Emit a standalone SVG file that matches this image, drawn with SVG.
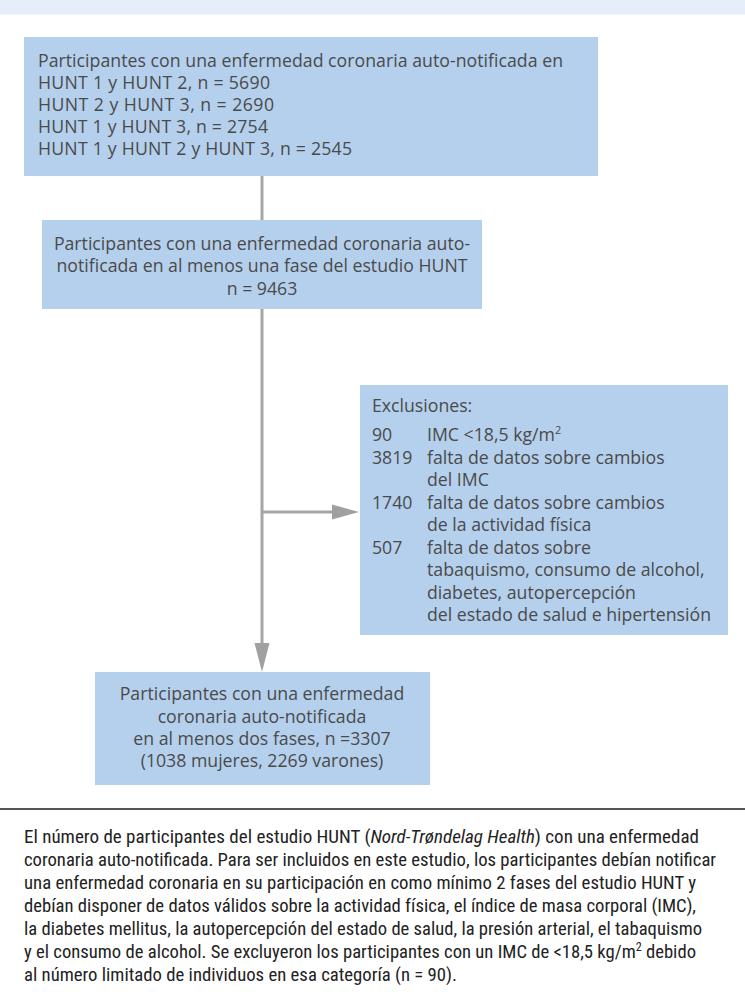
<svg xmlns="http://www.w3.org/2000/svg" width="745" height="1005" viewBox="0 0 745 1005">
<style>
.box{fill:#b5d0ed}
.bt{font-family:"Open Sans","Noto Sans",sans-serif;font-size:17.7px;fill:#4a4a4a}
.c{text-anchor:middle}
.cap{font-family:"Liberation Sans Narrow","Roboto Condensed","DejaVu Sans Condensed",sans-serif;font-size:18.5px;fill:#222}
.con{stroke:#a6a6a6;stroke-width:3;fill:none}
.ah{fill:#a0a0a0}
</style>
<rect x="0" y="0" width="745" height="14.5" fill="#e6eef9"/>
<g id="n1">
<rect class="box" x="24" y="37" width="574" height="139"/>
<text class="bt" x="38" y="67" textLength="525">Participantes con una enfermedad coronaria auto-notificada en</text>
<text class="bt" x="38" y="89" textLength="232">HUNT 1 y HUNT 2, n = 5690</text>
<text class="bt" x="38" y="111" textLength="236">HUNT 2 y HUNT 3, n = 2690</text>
<text class="bt" x="38" y="133" textLength="230">HUNT 1 y HUNT 3, n = 2754</text>
<text class="bt" x="38" y="155" textLength="314">HUNT 1 y HUNT 2 y HUNT 3, n = 2545</text>
</g>
<g id="n2">
<rect class="box" x="42" y="220" width="440" height="89"/>
<text class="bt c" x="262" y="250">Participantes con una enfermedad coronaria auto-</text>
<text class="bt c" x="262" y="272">notificada en al menos una fase del estudio HUNT</text>
<text class="bt c" x="262" y="295">n = 9463</text>
</g>
<g id="n3">
<rect class="box" x="360" y="385" width="368" height="250"/>
<text class="bt" x="372" y="412">Exclusiones:</text>
<text class="bt" x="372" y="441">90</text>
<text class="bt" x="427" y="441">IMC &lt;18,5 kg/m<tspan font-size="11" dy="-7">2</tspan></text>
<text class="bt" x="372" y="463.5">3819</text>
<text class="bt" x="427" y="463.5">falta de datos sobre cambios</text>
<text class="bt" x="427" y="486">del IMC</text>
<text class="bt" x="372" y="508.5">1740</text>
<text class="bt" x="427" y="508.5">falta de datos sobre cambios</text>
<text class="bt" x="427" y="531">de la actividad física</text>
<text class="bt" x="372" y="553.5">507</text>
<text class="bt" x="427" y="553.5">falta de datos sobre</text>
<text class="bt" x="427" y="576">tabaquismo, consumo de alcohol,</text>
<text class="bt" x="427" y="598.5">diabetes, autopercepción</text>
<text class="bt" x="427" y="621">del estado de salud e hipertensión</text>
</g>
<g id="n4">
<rect class="box" x="95" y="672" width="335" height="113"/>
<text class="bt c" x="262" y="700">Participantes con una enfermedad</text>
<text class="bt c" x="262" y="723">coronaria auto-notificada</text>
<text class="bt c" x="262" y="745">en al menos dos fases, n =3307</text>
<text class="bt c" x="262" y="767">(1038 mujeres, 2269 varones)</text>
</g>
<g id="connectors">
<line class="con" x1="262" y1="176" x2="262" y2="220"/>
<line class="con" x1="262" y1="309" x2="262" y2="645"/>
<line class="con" x1="262" y1="512" x2="334" y2="512"/>
<polygon class="ah" points="332,504.5 359,512 332,519.5"/>
<polygon class="ah" points="254.5,643 269.5,643 262,672"/>
</g>
<line x1="0" y1="809" x2="745" y2="809" stroke="#555" stroke-width="2"/>
<g id="caption">
<text class="cap" x="24" y="843" textLength="675" lengthAdjust="spacingAndGlyphs">El número de participantes del estudio HUNT (<tspan font-style="italic">Nord-Trøndelag Health</tspan>) con una enfermedad</text>
<text class="cap" x="24" y="866" textLength="692" lengthAdjust="spacingAndGlyphs">coronaria auto-notificada. Para ser incluidos en este estudio, los participantes debían notificar</text>
<text class="cap" x="24" y="889" textLength="672" lengthAdjust="spacingAndGlyphs">una enfermedad coronaria en su participación en como mínimo 2 fases del estudio HUNT y</text>
<text class="cap" x="24" y="912" textLength="672" lengthAdjust="spacingAndGlyphs">debían disponer de datos válidos sobre la actividad física, el índice de masa corporal (IMC),</text>
<text class="cap" x="24" y="935" textLength="678" lengthAdjust="spacingAndGlyphs">la diabetes mellitus, la autopercepción del estado de salud, la presión arterial, el tabaquismo</text>
<text class="cap" x="24" y="958" textLength="672" lengthAdjust="spacingAndGlyphs">y el consumo de alcohol. Se excluyeron los participantes con un IMC de &lt;18,5 kg/m<tspan font-size="12" dy="-7">2</tspan><tspan dy="7"> debido</tspan></text>
<text class="cap" x="24" y="981" textLength="433" lengthAdjust="spacingAndGlyphs">al número limitado de individuos en esa categoría (n = 90).</text>
</g>
</svg>
